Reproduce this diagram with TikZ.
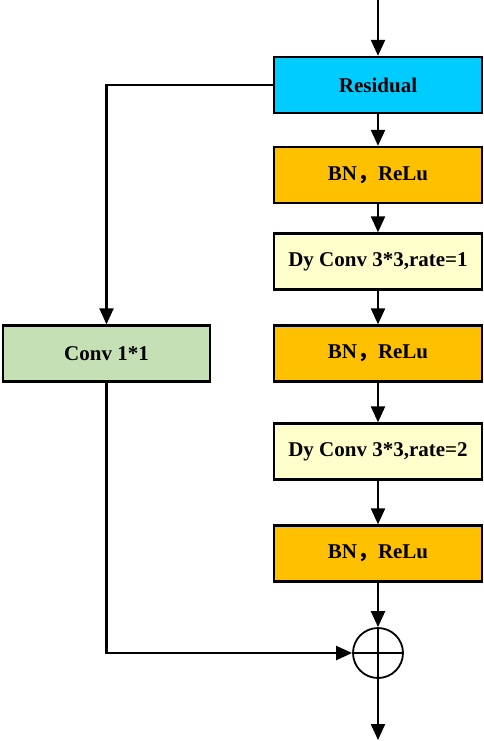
\documentclass[tikz,border=0pt]{standalone}
\usepackage{fontspec}
\setmainfont{Liberation Serif}
\newfontfamily\cjk{Noto Sans CJK SC}
\usetikzlibrary{arrows.meta}
\definecolor{rescol}{HTML}{00CCFF}
\definecolor{bncol}{HTML}{FFC000}
\definecolor{dycol}{HTML}{FFFFCC}
\definecolor{convcol}{HTML}{C5E0B4}
\begin{document}
\begin{tikzpicture}[x=1pt,y=-1pt,
  blk/.style={draw=black,line width=2.3pt,minimum width=208pt,minimum height=56pt,inner sep=0pt,
    font=\fontsize{21}{24}\selectfont\bfseries},
  conn/.style={line width=2.2pt,-{Triangle[length=16pt,width=14pt]}},
  plain/.style={line width=2.2pt}]
\useasboundingbox (0,0) rectangle (484,741);
\node[blk,fill=rescol] (res) at (378,85) {Residual};
\node[blk,fill=bncol] (bn1) at (378,175) {BN{\cjk ，}ReLu};
\node[blk,fill=dycol] (dy1) at (378,261.5) {Dy Conv 3*3,rate=1};
\node[blk,fill=bncol] (bn2) at (378,353.5) {BN{\cjk ，}ReLu};
\node[blk,fill=dycol] (dy2) at (378,451.5) {Dy Conv 3*3,rate=2};
\node[blk,fill=bncol] (bn3) at (378,553.5) {BN{\cjk ，}ReLu};
\node[blk,fill=convcol,minimum width=207pt] (conv) at (106.5,353.5) {Conv 1*1};
\node[draw,circle,line width=1.8pt,minimum size=50pt,inner sep=0pt] (sum) at (378,653) {};
\coordinate (top) at (378,0);
\coordinate (out) at (378,740);
\draw[conn] (top) -- (res.north);
\draw[conn] (res) -- (bn1);
\draw[conn] (bn1) -- (dy1);
\draw[conn] (dy1) -- (bn2);
\draw[conn] (bn2) -- (dy2);
\draw[conn] (dy2) -- (bn3);
\draw[conn] (bn3) -- (sum.north);
\draw[conn] (res.west) -| (conv.north);
\draw[conn] (conv.south) |- (sum.west);
\draw[line width=1.8pt] (sum.west) -- (sum.east);
\draw[line width=1.8pt] (sum.north) -- (sum.south);
\draw[conn] (sum.south) -- (out);
\end{tikzpicture}
\end{document}
